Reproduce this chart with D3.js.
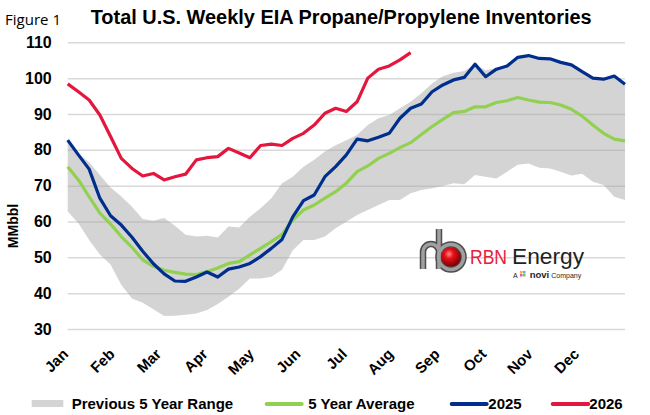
<!DOCTYPE html>
<html>
<head>
<meta charset="utf-8">
<script src="https://cdn.jsdelivr.net/npm/d3@7"></script>
<style>
  body { margin: 0; background: #fff; }
  svg { display: block; font-family: "Liberation Sans", Arial, sans-serif; }
</style>
</head>
<body>
<svg width="650" height="415"></svg>
<script>
// Data (MMbbl, weekly, week 1 .. week 53)
const months = ["Jan", "Feb", "Mar", "Apr", "May", "Jun", "Jul", "Aug", "Sep", "Oct", "Nov", "Dec"];
const yTicks = [30, 40, 50, 60, 70, 80, 90, 100, 110];

const rangeLow = [62.8, 59.5, 54.8, 50.8, 48.0, 42.3, 38.5, 37.3, 35.5, 33.6,
  33.7, 34.0, 34.3, 35.3, 37.0, 39.0, 41.2, 44.1, 44.1, 44.6,
  46.5, 52.0, 54.8, 54.8, 55.8, 58.1, 59.9, 61.8, 63.2, 64.6,
  66.0, 66.0, 67.9, 68.8, 69.3, 69.9, 70.7, 70.4, 73.0, 72.5,
  72.0, 73.9, 75.8, 76.2, 75.0, 74.8, 73.9, 72.8, 73.3, 71.1,
  70.2, 66.9, 66.0];
const rangeHigh = [82.7, 79.0, 76.5, 73.0, 69.5, 67.0, 64.1, 60.7, 60.2, 61.0,
  58.8, 56.3, 55.8, 56.0, 55.5, 58.6, 58.3, 61.3, 63.7, 66.5,
  70.7, 72.5, 75.3, 77.2, 79.5, 81.3, 82.7, 84.1, 86.9, 88.8,
  89.7, 91.6, 93.4, 95.8, 98.5, 100.5, 101.5, 102.0, 103.9, 102.2,
  102.8, 103.6, 105.8, 106.3, 105.5, 105.4, 104.4, 103.7, 101.8, 100.0,
  99.7, 100.6, 98.3];
const avg5 = [75.3, 71.6, 66.9, 62.3, 59.3, 55.8, 52.8, 49.3, 47.5, 46.4,
  45.8, 45.3, 45.2, 46.0, 47.0, 48.3, 48.8, 50.7, 52.5, 54.4,
  56.4, 60.4, 63.2, 64.6, 66.5, 68.3, 70.7, 73.9, 75.5, 77.6,
  79.0, 80.6, 82.0, 84.3, 86.5, 88.5, 90.4, 90.7, 92.0, 92.0,
  93.2, 93.7, 94.6, 93.9, 93.3, 93.2, 92.5, 91.3, 89.4, 86.9,
  84.6, 83.0, 82.5];
const y2025 = [82.7, 78.6, 74.6, 66.5, 61.6, 59.0, 55.6, 51.7, 48.2, 45.4,
  43.4, 43.3, 44.5, 45.9, 44.5, 46.7, 47.3, 48.3, 50.2, 52.5,
  55.0, 61.3, 65.8, 67.4, 72.5, 75.3, 78.6, 83.0, 82.5, 83.5,
  84.6, 88.8, 91.6, 92.8, 96.2, 98.1, 99.5, 100.2, 103.9, 100.4,
  102.5, 103.4, 105.8, 106.3, 105.5, 105.4, 104.4, 103.7, 101.8, 100.0,
  99.7, 100.6, 98.3];
const y2026 = [98.4, 96.2, 93.9, 89.7, 83.7, 77.6, 74.8, 72.7, 73.4, 71.6,
  72.5, 73.2, 77.2, 77.8, 78.1, 80.4, 79.1, 77.8, 81.2, 81.6,
  81.2, 83.2, 84.6, 86.9, 90.2, 91.6, 90.7, 93.4, 100.0, 102.5,
  103.4, 105.1, 107.1];

const legendLabels = ["Previous 5 Year Range", "5 Year Average", "2025", "2026"];

// The svg
const svg = d3.select("svg"),
  width = +svg.attr("width"),
  height = +svg.attr("height");

const plot = { left: 67.7, right: 625, top: 42.3, bottom: 329 };

const x = d3.scaleLinear()
  .domain([0, 52])
  .range([plot.left, plot.right]);

const y = d3.scaleLinear()
  .domain([30, 110])
  .range([plot.bottom, plot.top]);

const xMonth = d3.scaleBand()
  .domain(months)
  .range([plot.left, plot.right]);

const colors = {
  band: "#a3a3a3",
  avg: "#92d050",
  y2025: "#002e8c",
  y2026: "#e3173e"
};

// Titles
svg.append("text")
  .attr("x", 5)
  .attr("y", 25)
  .text("Figure 1")
  .style("font-family", "'Open Sans', sans-serif")
  .style("font-size", "15px")
  .attr("textLength", 56)
  .attr("fill", "#000");

svg.append("text")
  .attr("x", 90.7)
  .attr("y", 24)
  .text("Total U.S. Weekly EIA Propane/Propylene Inventories")
  .style("font-size", "20px")
  .style("font-weight", "bold")
  .attr("textLength", 501)
  .attr("lengthAdjust", "spacingAndGlyphs");

// Gridlines + y labels
const yAxis = svg.append("g")
  .attr("transform", `translate(${plot.left},0)`)
  .call(d3.axisLeft(y)
    .tickValues(yTicks)
    .tickSize(-(plot.right - plot.left))
    .tickPadding(16));
yAxis.select(".domain").remove();
yAxis.selectAll("line")
  .attr("stroke", "#d9d9d9")
  .attr("stroke-width", 1.5);
yAxis.selectAll("text")
  .style("font-family", "'Liberation Sans', Arial, sans-serif")
  .style("font-size", "16px")
  .style("font-weight", "bold")
  .attr("fill", "#000");

// Y axis title
svg.append("text")
  .attr("transform", "translate(18,226) rotate(-90)")
  .attr("text-anchor", "middle")
  .text("MMbbl")
  .style("font-size", "14px")
  .style("font-weight", "bold");

// Previous 5 year range band
const area = d3.area()
  .x((d, i) => x(i))
  .y0(d => y(d[0]))
  .y1(d => y(d[1]));

svg.append("path")
  .datum(d3.zip(rangeLow, rangeHigh))
  .attr("d", area)
  .attr("fill", colors.band)
  .attr("fill-opacity", 0.47);

// Lines
const line = d3.line()
  .x((d, i) => x(i))
  .y(d => y(d));

[[avg5, colors.avg], [y2025, colors.y2025], [y2026, colors.y2026]].forEach(([series, c]) => {
  svg.append("path")
    .datum(series)
    .attr("d", line)
    .attr("fill", "none")
    .attr("stroke", c)
    .attr("stroke-width", 3.2)
    .attr("stroke-linejoin", "round");
});

// Month labels
svg.append("g")
  .selectAll("text")
  .data(months)
  .join("text")
  .attr("transform", d => `translate(${xMonth(d) + 1.5},355) rotate(-45)`)
  .attr("text-anchor", "end")
  .text(d => d)
  .style("font-size", "15px")
  .style("font-weight", "bold");

// Legend
const legend = svg.append("g").style("font-size", "15px").style("font-weight", "bold");
legend.append("rect")
  .attr("x", 31.7).attr("y", 400).attr("width", 31.6).attr("height", 7)
  .attr("fill", colors.band).attr("fill-opacity", 0.47);
legend.append("text").attr("x", 71.7).attr("y", 409).text(legendLabels[0]);

const legendLines = [
  { x1: 266.7, x2: 301.7, tx: 308.3, c: colors.avg, label: legendLabels[1] },
  { x1: 451.7, x2: 486.7, tx: 488.3, c: colors.y2025, label: legendLabels[2] },
  { x1: 552.7, x2: 588.3, tx: 589.3, c: colors.y2026, label: legendLabels[3] }
];
legendLines.forEach(d => {
  legend.append("line")
    .attr("x1", d.x1).attr("x2", d.x2)
    .attr("y1", 404).attr("y2", 404)
    .attr("stroke", d.c).attr("stroke-width", 4).attr("stroke-linecap", "round");
  legend.append("text").attr("x", d.tx).attr("y", 409).text(d.label);
});

// RBN Energy logo
const defs = svg.append("defs");
const ball = defs.append("radialGradient").attr("id", "ball")
  .attr("cx", "40%").attr("cy", "35%").attr("r", "65%");
ball.append("stop").attr("offset", "0%").attr("stop-color", "#ff8a8a");
ball.append("stop").attr("offset", "35%").attr("stop-color", "#e8101a");
ball.append("stop").attr("offset", "100%").attr("stop-color", "#7a0000");

const logo = svg.append("g");
const pipe = "M423,269 V252 A8,8 0 0 1 439,252 M439,229 V269";
logo.append("path").attr("d", pipe).attr("fill", "none")
  .attr("stroke", "#4d4d4d").attr("stroke-width", 6.5);
logo.append("circle").attr("cx", 451).attr("cy", 257).attr("r", 12.5)
  .attr("fill", "none").attr("stroke", "#4d4d4d").attr("stroke-width", 6.5);
logo.append("path").attr("d", pipe).attr("fill", "none")
  .attr("stroke", "#a0a0a0").attr("stroke-width", 3.5);
logo.append("circle").attr("cx", 451).attr("cy", 257).attr("r", 12.5)
  .attr("fill", "none").attr("stroke", "#a0a0a0").attr("stroke-width", 3.5);
logo.append("circle").attr("cx", 451).attr("cy", 257).attr("r", 9.8)
  .attr("fill", "url(#ball)");

logo.append("text").attr("x", 470).attr("y", 264).text("RBN")
  .attr("fill", "#e8203a").style("font-size", "21px")
  .attr("textLength", 37).attr("lengthAdjust", "spacingAndGlyphs");
logo.append("text").attr("x", 512).attr("y", 264).text("Energy")
  .attr("fill", "#231f20").style("font-size", "22px")
  .attr("textLength", 72).attr("lengthAdjust", "spacingAndGlyphs");

const novi = logo.append("text").attr("x", 513).attr("y", 278)
  .style("font-size", "7px").attr("fill", "#231f20");
novi.append("tspan").text("A");
novi.append("tspan").attr("dx", 12).style("font-size", "9.5px").style("font-weight", "bold").text("novi");
novi.append("tspan").attr("dx", 2).text("Company");
[["#f2b134", 0, 0], ["#4fb3e8", 3, 0], ["#e85a9b", 0, 3], ["#7ac36a", 3, 3]].forEach(([c, dx, dy]) => {
  logo.append("rect").attr("x", 520 + dx).attr("y", 271 + dy)
    .attr("width", 2.5).attr("height", 2.5).attr("fill", c);
});
</script>
</body>
</html>
